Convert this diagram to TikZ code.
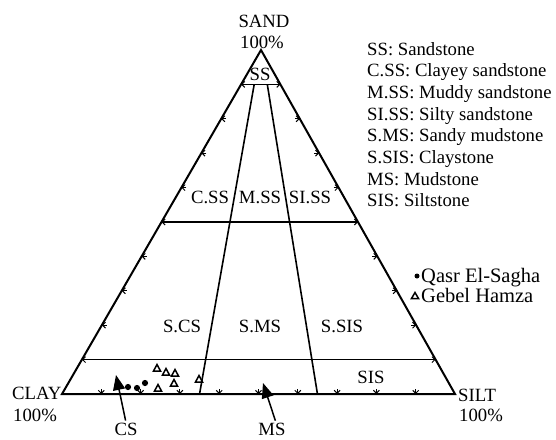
\documentclass[tikz,border=0pt]{standalone}
\usepackage{fontspec}
\setmainfont{Liberation Serif}
\usetikzlibrary{calc,arrows.meta}

\begin{document}
\begin{tikzpicture}[x=1pt,y=-1pt,
	every node/.style={font=\fontsize{18.7}{22}\selectfont, inner sep=0pt},
	symkey/.style={font=\fontsize{20.5}{24}\selectfont},
	side/.style={line width=2pt, line join=miter},
	border/.style={line width=1.6pt},
	tickmark/.style={line width=1pt, -{Straight Barb[length=3pt,width=6pt]}},
	pointer/.style={line width=1.5pt, -{Triangle[length=15pt,width=12pt]}},
	grain/.style={fill=black},
	opentri/.style={line width=1.5pt, line join=miter}]
			%%%%% START %%%%%
			
			\useasboundingbox (0, 0) rectangle (556, 439);
			
			\coordinate (clay) at (62, 394);
			\coordinate (silt) at (455, 394);
			\coordinate (sand) at (261, 50);
			
			\coordinate (l90) at ($(clay)!0.9!(sand)$);
			\coordinate (r90) at ($(silt)!0.9!(sand)$);
			\coordinate (l50) at ($(clay)!0.5!(sand)$);
			\coordinate (r50) at ($(silt)!0.5!(sand)$);
			\coordinate (l10) at ($(clay)!0.1!(sand)$);
			\coordinate (r10) at ($(silt)!0.1!(sand)$);
			
			\draw[border] (l90) -- (r90);
			\draw[border] (l50) -- (r50);
			\draw[border] (l10) -- (r10);
			
			\draw[border] ($(l90)!1/3!(r90)$) -- ($(clay)!0.35!(silt)$);
			\draw[border] ($(l90)!2/3!(r90)$) -- ($(clay)!0.65!(silt)$);
			
			% ticks every 10%
			\foreach \k in {1,...,9}{
				\draw[tickmark] ($(clay)!\k/10!(sand)+(5,0)$) -- ($(clay)!\k/10!(sand)$);
				\draw[tickmark] ($(silt)!\k/10!(sand)+(-5,0)$) -- ($(silt)!\k/10!(sand)$);
				\draw[tickmark] ($(clay)!\k/10!(silt)+(0,-5)$) -- ($(clay)!\k/10!(silt)$);
			}
			
			\draw[side] (clay) -- (silt) -- (sand) -- cycle;
			
			% corners
			\node (sandname) at (264, 21) {SAND};
			\node (sandpct) at (262, 42) {100\%};
			\node[anchor=west] (clayname) at (12, 393) {CLAY};
			\node[anchor=west] (claypct) at (13, 415) {100\%};
			\node[anchor=west] (siltname) at (458, 395) {SILT};
			\node[anchor=west] (siltpct) at (459, 415) {100\%};
			
			% fields
			\node (ss) at (260, 74) {SS};
			\node (css) at (210, 197) {C.SS};
			\node (mss) at (260, 197) {M.SS};
			\node (siss) at (310, 197) {SI.SS};
			\node (scs) at (182, 326) {S.CS};
			\node (sms) at (260, 326) {S.MS};
			\node (ssis) at (342, 326) {S.SIS};
			\node (sis) at (371, 377) {SIS};
			
			% key
			\foreach \txt [count=\i] in {SS: Sandstone, C.SS: Clayey sandstone, M.SS: Muddy sandstone, SI.SS: Silty sandstone, S.MS: Sandy mudstone, S.SIS: Claystone, MS: Mudstone, SIS: Siltstone}
				\node[anchor=base west] (key\i) at (367, {55+21.7*(\i-1)}) {\txt};
			
			\fill[grain] (417, 276) circle (2.5);
			\node[symkey, anchor=base west] (qasr) at (421, 282) {Qasr El-Sagha};
			\draw[opentri] (415, 292.5) -- (418.5, 298.5) -- (411.5, 298.5) -- cycle;
			\node[symkey, anchor=base west] (gebel) at (421, 302) {Gebel Hamza};
			
			% samples
			\foreach \x/\y in {128/387, 137/388, 145/383}
				\fill[grain] (\x, \y) circle (3.1);
			\foreach \x/\y in {157/368, 166/372, 175/373, 174/383, 158/388, 199/379}
				\draw[opentri] (\x, \y) ++(0, -3.5) -- ++(3.5, 6.5) -- ++(-7, 0) -- cycle;
			
			% pointers
			\node (cs) at (126, 429) {CS};
			\node (ms) at (272, 429) {MS};
			\coordinate (cstip) at (116, 375);
			\coordinate (mstip) at (263, 383);
			\draw[pointer, shorten <=2pt] (cs.north) -- (cstip);
			\draw[pointer, shorten <=2pt] ($(ms.north)+(4, 0)$) -- (mstip);
			
			%%%%% END %%%%%
		\end{tikzpicture}
\end{document}
